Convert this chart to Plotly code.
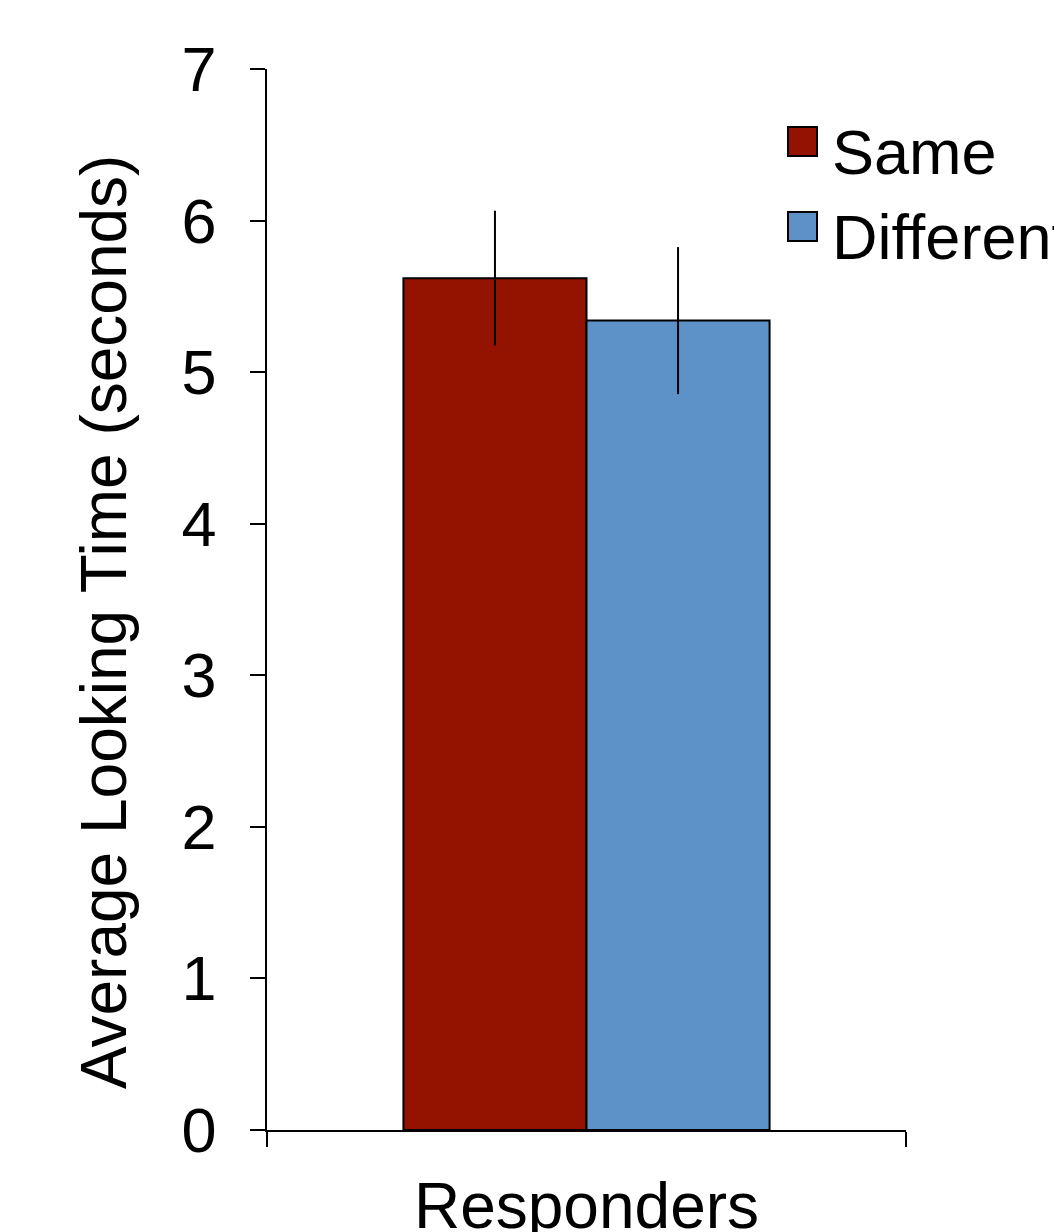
import plotly.graph_objects as go

categories = ["Responders"]
series_names = ["Same", "Different"]
same_values = [5.62]
same_errors = [0.445]
different_values = [5.34]
different_errors = [0.485]
y_ticks = [0, 1, 2, 3, 4, 5, 6, 7]
y_title = "Average Looking Time (seconds)"

COLOR_SAME = "#941200"
COLOR_DIFF = "#5C92C7"
FONT = "Liberation Sans, Arial, Helvetica, sans-serif"
FS = 64

fig = go.Figure()
for name, vals, errs, col in [
    (series_names[0], same_values, same_errors, COLOR_SAME),
    (series_names[1], different_values, different_errors, COLOR_DIFF),
]:
    fig.add_trace(go.Bar(
        x=categories, y=vals, name=name,
        marker=dict(color=col, line=dict(color="black", width=2)),
        error_y=dict(type="data", array=errs, visible=True, color="black",
                     thickness=2, width=0),
        showlegend=False,
    ))

# page has an 8px body margin; plot area in figure coords
L, R, T, B = 259, 898, 61, 1122
W, H = R - L, B - T
def px_x(p):
    return (p - 8 - L) / W
def px_y(p):
    return (B - (p - 8)) / H

# manual legend (large swatches as in the reference); positions in screen px
legend_items = [(series_names[0], COLOR_SAME, 127, 152), (series_names[1], COLOR_DIFF, 212, 237)]
for name, col, top, tcy in legend_items:
    fig.add_shape(type="rect", xref="paper", yref="paper",
                  x0=px_x(788), x1=px_x(817), y0=px_y(top + 29), y1=px_y(top),
                  fillcolor=col, line=dict(color="black", width=2))
    fig.add_annotation(xref="paper", yref="paper", x=px_x(830), y=px_y(tcy),
                       xanchor="left", yanchor="middle", text=name, showarrow=False,
                       font=dict(family=FONT, size=63, color="black"))

# y-axis title (sits slightly below the plot centre in the reference)
fig.add_annotation(xref="paper", yref="paper", x=px_x(104), y=px_y(622),
                   xanchor="center", yanchor="middle", text=y_title, textangle=-90,
                   showarrow=False, font=dict(family=FONT, size=FS, color="black"))

fig.update_layout(
    width=1062, height=1232,
    margin=dict(l=L, r=1062 - R, t=T, b=1232 - B, autoexpand=False),
    paper_bgcolor="white", plot_bgcolor="white",
    barmode="group", bargap=0.427, bargroupgap=0,
    font=dict(family=FONT, size=FS, color="black"),
)
fig.update_xaxes(
    automargin=False,
    showline=True, linecolor="black", linewidth=1.5,
    ticks="outside", tickson="boundaries", ticklen=15, tickcolor="black", tickwidth=1.5,
    range=[-0.5, 0.5], showgrid=False,
    tickfont=dict(size=FS), ticklabelstandoff=19,
)
fig.update_yaxes(
    automargin=False,
    range=[0, 7], tickvals=y_ticks, showline=True, linecolor="black", linewidth=1.5,
    ticks="outside", ticklen=15, tickcolor="black", tickwidth=1.5,
    showgrid=False, zeroline=False,
    tickfont=dict(size=63), ticklabelstandoff=21,
)

fig.write_html("out.html")
